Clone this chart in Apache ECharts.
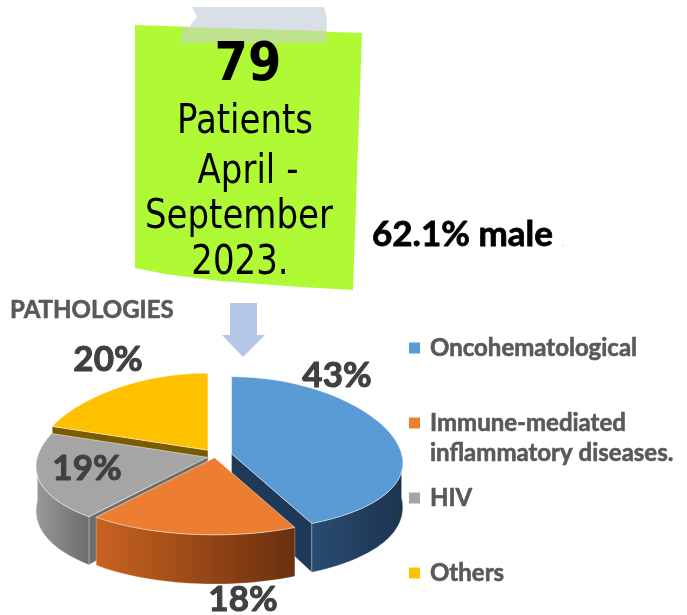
<!DOCTYPE html>
<html>
<head>
<meta charset="utf-8">
<script src="https://cdn.jsdelivr.net/npm/echarts@6/dist/echarts.min.js"></script>
<style>
html, body { margin: 0; padding: 0; background: #fff; }
#chart { width: 687px; height: 615px; }
</style>
</head>
<body>
<div id="chart"></div>
<script>
// pathologies share (%)
var categories = ['Oncohematological', 'Immune-mediated inflammatory diseases.', 'HIV', 'Others'];
var shares = [43, 18, 19, 20];
var patients = 79;
var period = ['April -', 'September', '2023.'];
var maleShare = '62.1%';

// look of the 3d pie
var colors = ['#5B9BD5', '#ED7D31', '#A5A5A5', '#FFC000'];
var wallColors = [['#2a4c72', '#1c334e'], ['#c9621f', '#6a300f'], ['#9a9a9a', '#6c6c6c'], ['#9a7400', '#6a5000']];
var faceColors = ['#1f3959', '#8a3f12', '#6e6e6e', '#7a5b00'];
var explode = [17, 3, 8, 12];
var labelAt = [[337, 376], [243, 600], [87, 469], [108, 360]];
var PIE = { cx: 215, cy: 456, rx: 170, ry: 77, depth: 44, persp: 0.12 };

var total = 0;
shares.forEach(function (v) { total += v; });
var angles = [], acc = 0;
shares.forEach(function (v) {
    var a = acc / total * Math.PI * 2;
    acc += v;
    angles.push([a, acc / total * Math.PI * 2]);
});
// back slices first
var order = angles.map(function (a, i) { return i; }).sort(function (i, j) {
    var mi = (angles[i][0] + angles[i][1]) / 2, mj = (angles[j][0] + angles[j][1]) / 2;
    return -Math.cos(mi) - -Math.cos(mj);
});

function pt(ox, oy, th, r, dz) {
    var ey = -Math.cos(th) * r;
    var k = 1 + PIE.persp * ey;
    return [PIE.cx + ox + PIE.rx * r * Math.sin(th) * k, PIE.cy + oy + PIE.ry * ey + (dz || 0) * (1 + PIE.persp * ey)];
}
function arc(ox, oy, a, b, dz) {
    var pts = [], n = Math.max(2, Math.ceil((b - a) / (Math.PI / 90)));
    for (var s = 0; s <= n; s++) pts.push(pt(ox, oy, a + (b - a) * s / n, 1, dz));
    return pts;
}

function renderSlice(params, api) {
    var i = params.dataIndex;
    var a = angles[i][0], b = angles[i][1], mid = (a + b) / 2;
    var ox = explode[i] * Math.sin(mid), oy = -explode[i] * Math.cos(mid) * 0.6;
    var base = order.indexOf(i) * 10;
    var d = PIE.depth;
    var kids = [];
    var c0 = pt(ox, oy, 0, 0), c1 = pt(ox, oy, 0, 0, d);
    if (Math.sin(a) < -1e-6) {
        kids.push({ type: 'polygon', z2: base, shape: { points: [c0, pt(ox, oy, a, 1), pt(ox, oy, a, 1, d), c1] },
            style: { fill: faceColors[i], stroke: 'rgba(255,255,255,0.35)', lineWidth: 0.8 } });
    }
    if (Math.sin(b) > 1e-6) {
        kids.push({ type: 'polygon', z2: base, shape: { points: [c0, pt(ox, oy, b, 1), pt(ox, oy, b, 1, d), c1] },
            style: { fill: faceColors[i], stroke: 'rgba(255,255,255,0.35)', lineWidth: 0.8 } });
    }
    var wa = Math.max(a, Math.PI / 2), wb = Math.min(b, Math.PI * 1.5);
    if (wa < wb) {
        var wall = arc(ox, oy, wa, wb, 0).concat(arc(ox, oy, wa, wb, d).reverse());
        kids.push({ type: 'polygon', z2: base + 1, shape: { points: wall },
            style: { fill: { type: 'linear', x: 0, y: 0, x2: 1, y2: 0,
                colorStops: [{ offset: 0, color: wallColors[i][0] }, { offset: 1, color: wallColors[i][1] }] },
                stroke: 'rgba(255,255,255,0.35)', lineWidth: 0.8 } });
    }
    kids.push({ type: 'polygon', z2: base + 2, shape: { points: [c0].concat(arc(ox, oy, a, b, 0)) },
        style: { fill: api.visual('color'), stroke: 'rgba(255,255,255,0.6)', lineWidth: 0.8 } });
    kids.push({ type: 'text', z2: 100, x: labelAt[i][0], y: labelAt[i][1],
        style: { text: api.value(0) + '%', font: 'bold 35px Lato', fill: '#404040', stroke: '#404040', lineWidth: 1,
            align: 'center', verticalAlign: 'middle' } });
    return { type: 'group', children: kids };
}

var legendY = [348, 423, 498, 573];
var graphic = [];
// sticky note
graphic.push({ type: 'polygon', z: 1, shape: { points: [[135, 25], [362, 33], [353, 290], [300, 287], [220, 281], [165, 274], [135, 268]] },
    style: { fill: '#AFFA35' } });
graphic.push({ type: 'polygon', z: 2, shape: { points: [[192, 7], [324, 7], [327, 18], [326, 43], [180, 43], [187, 30], [197, 17]] },
    style: { fill: '#dadee7' } });
graphic.push({ type: 'polygon', z: 3, shape: { points: [[183, 27], [326, 31], [326, 43], [180, 43]] },
    style: { fill: '#bfe28f' } });
graphic.push({ type: 'text', z: 4, x: 248, y: 66, scaleY: 1.1,
    style: { text: String(patients), font: 'bold 48px "DejaVu Sans"', fill: '#000', align: 'center', verticalAlign: 'middle' } });
var noteLines = ['Patients'].concat(period);
var noteX = [245, 248, 239, 240], noteY = [122, 172, 217, 263];
noteLines.forEach(function (t, i) {
    graphic.push({ type: 'text', z: 4, x: noteX[i], y: noteY[i], scaleY: 1.2,
        style: { text: t, font: '34px "DejaVu Sans"', fill: '#000', align: 'center', verticalAlign: 'middle' } });
});
graphic.push({ type: 'text', x: 372, y: 235,
    style: { text: maleShare + ' male', font: 'bold 35px Lato', fill: '#000', stroke: '#000', lineWidth: 0.8,
        align: 'left', verticalAlign: 'middle' } });
graphic.push({ type: 'text', x: 562, y: 243,
    style: { text: '.', font: '8px Lato', fill: '#999', align: 'left', verticalAlign: 'middle' } });
graphic.push({ type: 'text', x: 10, y: 310,
    style: { text: 'PATHOLOGIES', font: 'bold 24px Lato', fill: '#595959', stroke: '#595959', lineWidth: 0.6,
        align: 'left', verticalAlign: 'middle' } });
// arrow
graphic.push({ type: 'polygon', shape: { points: [[230, 303], [257, 303], [257, 335], [265, 335], [243, 357], [222, 335], [230, 335]] },
    style: { fill: '#B4C7E7' } });
// legend
categories.forEach(function (name, i) {
    graphic.push({ type: 'rect', shape: { x: 409, y: legendY[i] - 5.5, width: 11, height: 11 }, style: { fill: colors[i] } });
    graphic.push({ type: 'text', x: 430, y: legendY[i] - 15,
        style: { text: name.replace('-mediated ', '-mediated\n'), font: 'bold 24px Lato', lineHeight: 30,
            fill: '#595959', stroke: '#595959', lineWidth: 0.6, align: 'left', verticalAlign: 'top' } });
});
graphic.push({ type: 'text', x: 70, y: 633,
    style: { text: 'out?', font: 'bold 32px Lato', fill: '#1F3864', align: 'right', verticalAlign: 'alphabetic' } });

var chart = echarts.init(document.getElementById('chart'));
chart.setOption({
    animation: false,
    color: colors,
    graphic: graphic,
    series: [{
        type: 'custom',
        coordinateSystem: 'none',
        renderItem: renderSlice,
        colorBy: 'data',
        data: shares.map(function (v, i) { return { name: categories[i], value: v, itemStyle: { color: colors[i] } }; })
    }]
});
</script>
</body>
</html>
